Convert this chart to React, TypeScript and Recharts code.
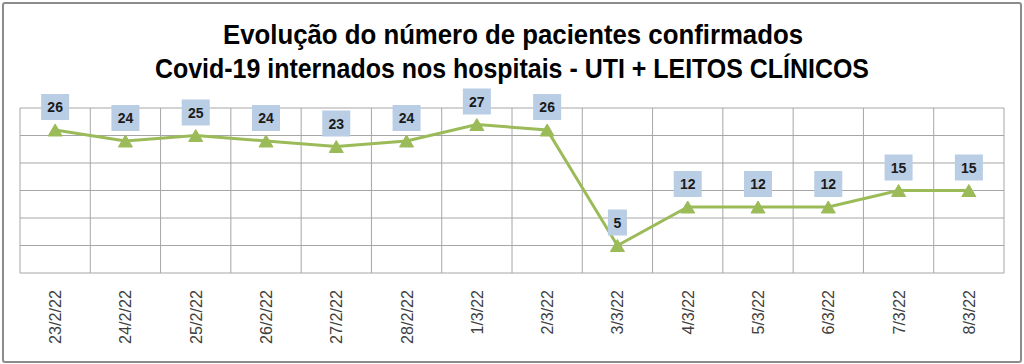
import React from "react";
import { LineChart, Line, XAxis, YAxis, CartesianGrid, LabelList } from "recharts";

const categories = ["23/2/22", "24/2/22", "25/2/22", "26/2/22", "27/2/22", "28/2/22", "1/3/22", "2/3/22", "3/3/22", "4/3/22", "5/3/22", "6/3/22", "7/3/22", "8/3/22"];
const patients = [26, 24, 25, 24, 23, 24, 27, 26, 5, 12, 12, 12, 15, 15];
const yTicks = [0, 5, 10, 15, 20, 25, 30];
const titleLines = ["Evolução do número de pacientes confirmados", "Covid-19 internados nos hospitais - UTI + LEITOS CLÍNICOS"];

const data = categories.map((c, i) => ({ cat: c, idx: i + 0.5, value: patients[i] }));
const boundaryTicks = categories.map((_, i) => i).concat([categories.length]);

const GREEN = "#9bbb59";
const GRID = "#a6a6a6";

const Triangle = (props: any) => {
  const { cx, cy } = props;
  if (cx == null || cy == null) return null;
  return <path d={`M${cx},${cy - 6} L${cx + 7},${cy + 6} L${cx - 7},${cy + 6} Z`} fill={GREEN} stroke={GREEN} strokeWidth={1} />;
};

const ValueLabel = (props: any) => {
  const { x, y, value } = props;
  if (x == null || y == null) return null;
  const s = String(value);
  const w = s.length * 9 + 10;
  const h = 26;
  const cyBox = y - 23;
  return (
    <g>
      <rect x={x - w / 2} y={cyBox - h / 2} width={w} height={h} fill="#b9cde5" />
      <text x={x} y={cyBox + 5} textAnchor="middle" fontFamily="'Liberation Sans', Arial, sans-serif" fontWeight="bold" fontSize={14} fill="#1a1a1a">{s}</text>
    </g>
  );
};

const CatTick = (props: any) => {
  const { x, y, payload } = props;
  return (
    <text x={0} y={0} transform={`translate(${x + 6},${y + 9}) rotate(-90)`} textAnchor="end" fontFamily="'Liberation Sans', Arial, sans-serif" fontSize={16} fill="#404040" textLength={String(payload.value).length > 6 ? 54 : undefined} lengthAdjust="spacingAndGlyphs">
      {payload.value}
    </text>
  );
};

export default function App() {
  return (
    <div style={{ position: "absolute", left: 0, top: 0, width: 1024, height: 364, background: "#fff" }}>
      <div style={{ position: "absolute", left: 2, top: 2, width: 1016, height: 357, border: "2px solid #8c8c8c", borderRadius: 3 }} />
      <svg style={{ position: "absolute", left: 0, top: 0 }} width={1024} height={90}>
        <text x={513} y={44} textAnchor="middle" fontFamily="'Liberation Sans', Arial, sans-serif" fontWeight="bold" fontSize={28} fill="#000" textLength={580} lengthAdjust="spacingAndGlyphs">{titleLines[0]}</text>
        <text x={512} y={78} textAnchor="middle" fontFamily="'Liberation Sans', Arial, sans-serif" fontWeight="bold" fontSize={28} fill="#000" textLength={714} lengthAdjust="spacingAndGlyphs">{titleLines[1]}</text>
      </svg>
      <div style={{ position: "absolute", left: 0, top: 0 }}>
        <LineChart width={1024} height={364} data={data} margin={{ top: 108, right: 20, bottom: 0, left: 20 }}>
          <CartesianGrid xAxisId="num" stroke={GRID} strokeWidth={1} vertical={true} horizontal={true} />
          <XAxis xAxisId="num" dataKey="idx" type="number" domain={[0, categories.length]} ticks={boundaryTicks} tickFormatter={() => ""} tickSize={5} height={0} axisLine={{ stroke: GRID }} tickLine={{ stroke: GRID }} interval={0} allowDataOverflow />
          <XAxis xAxisId="cat" dataKey="cat" type="category" scale="band" height={91} axisLine={false} tickLine={false} tick={<CatTick />} interval={0} />
          <YAxis domain={[0, 30]} ticks={yTicks} hide width={0} />
          <Line xAxisId="num" dataKey="value" type="linear" stroke={GREEN} strokeWidth={3} dot={<Triangle />} activeDot={false} isAnimationActive={false}>
            <LabelList dataKey="value" content={<ValueLabel />} />
          </Line>
        </LineChart>
      </div>
    </div>
  );
}
